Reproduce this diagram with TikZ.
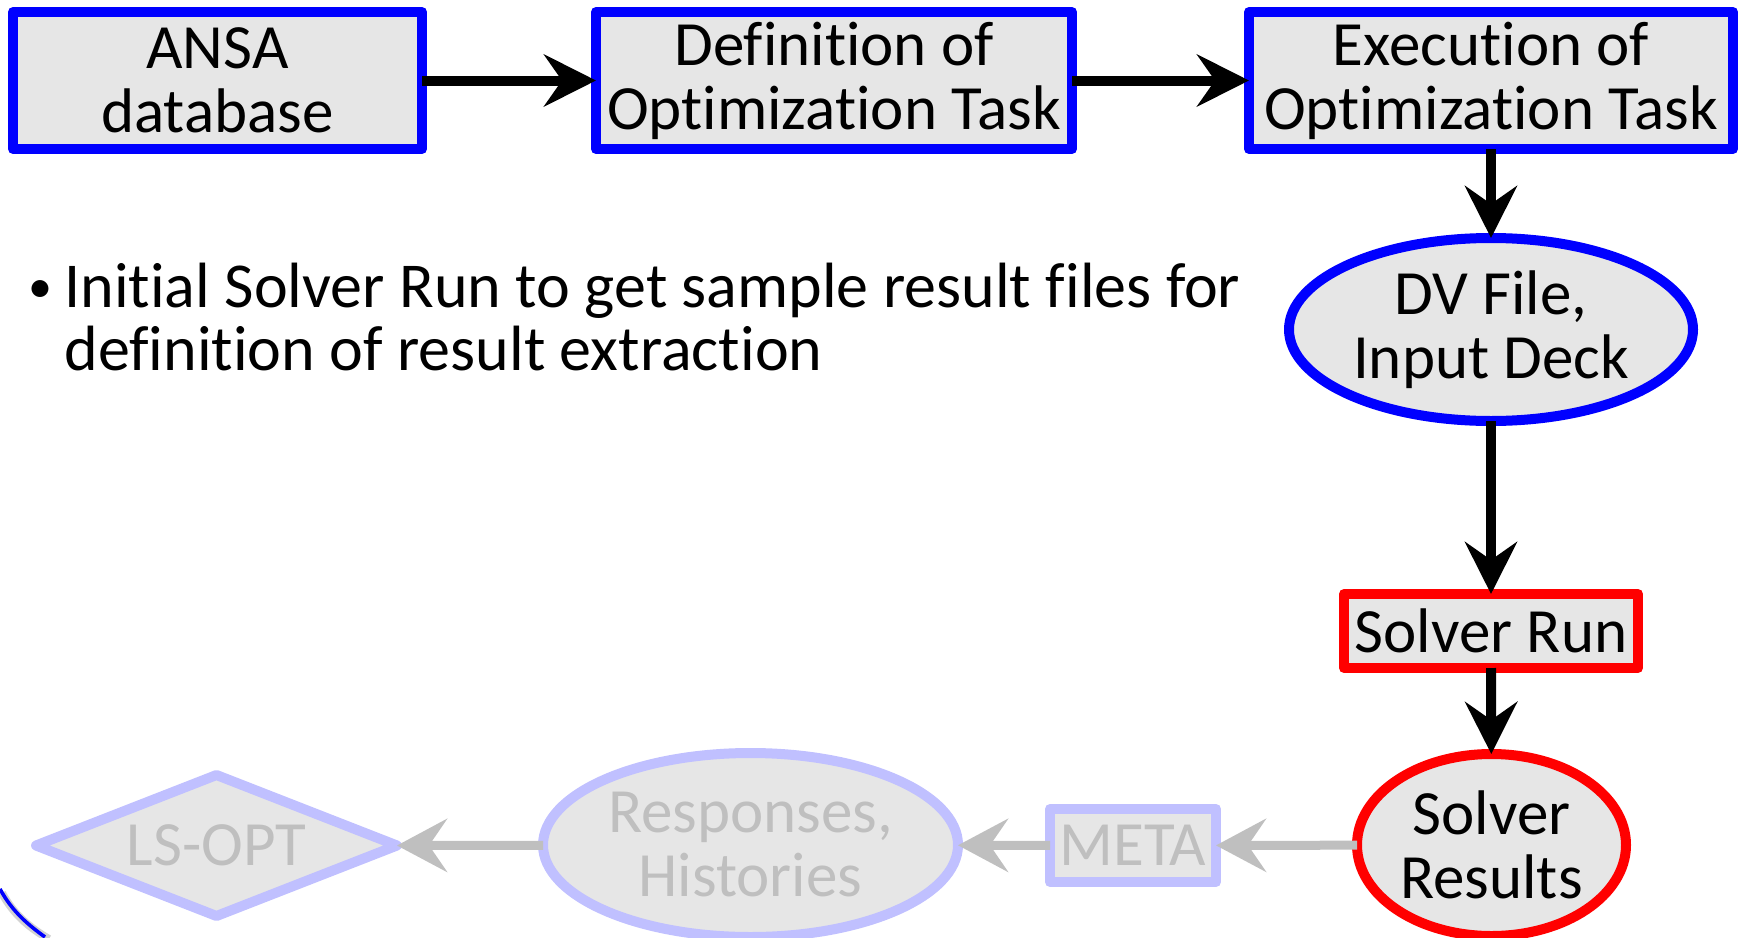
\documentclass[tikz,border=0pt]{standalone}
\usepackage{fontspec}
\setmainfont{Carlito}[Ligatures={NoCommon,NoContextual,NoRequired}, Contextuals=NoAlternate, RawFeature=-dlig]
\usetikzlibrary{arrows.meta,shapes.geometric}
\definecolor{boxgray}{HTML}{E6E6E6}
\definecolor{pureblue}{HTML}{0000FF}
\definecolor{purered}{HTML}{FF0000}
\definecolor{lav}{HTML}{C0C0FF}
\definecolor{fadegray}{HTML}{BFBFBF}
\tikzset{
  boxfont/.style={font=\fontsize{31.5pt}{32pt}\selectfont},
  basebox/.style={draw, fill=boxgray, line width=5pt, line join=round, inner sep=0pt, outer sep=0pt, align=center, boxfont},
  bluebox/.style={basebox, rectangle, draw=pureblue},
  blueell/.style={basebox, ellipse, draw=pureblue},
  redbox/.style={basebox, rectangle, draw=purered},
  redell/.style={basebox, ellipse, draw=purered},
  fadebox/.style={basebox, rectangle, draw=lav, text=fadegray},
  fadeell/.style={basebox, ellipse, draw=lav, text=fadegray},
  fadedia/.style={basebox, diamond, aspect=2.56, draw=lav, text=fadegray},
  blackarrow/.style={draw=black, line width=5pt, -{Stealth[length=26pt, width=26pt, inset=9pt]}},
  grayarrow/.style={draw=fadegray, line width=4.5pt, -{Stealth[length=25pt, width=26.5pt, inset=9pt, fill=fadegray]}},
  bulletfont/.style={font=\fontsize{32pt}{31.5pt}\selectfont},
}
\begin{document}
\begin{tikzpicture}[x=0.5pt, y=-0.5pt]
\useasboundingbox (0,0) rectangle (1740,937);
\node[bluebox, minimum width=204.5pt, minimum height=68.5pt] (ansa) at (217.5,80.5) {ANSA\\database};
\node[bluebox, minimum width=238pt, minimum height=68.5pt] (def) at (834,80.5) {Definition of\\Optimization Task};
\node[bluebox, minimum width=242pt, minimum height=68.5pt] (exe) at (1491,80.5) {Execution of\\Optimization Task};
\node[blueell, minimum width=202pt, minimum height=91.5pt] (dv) at (1491,329.5) {DV File,\\Input Deck};
\node[redbox, minimum width=147pt, minimum height=37pt] (run) at (1491,631) {Solver Run};
\node[redell, minimum width=134.5pt, minimum height=91pt] (res) at (1491.5,845) {Solver\\Results};
\node[fadebox, minimum width=83pt, minimum height=36.5pt] (meta) at (1133,845.5) {META};
\node[fadeell, minimum width=207.5pt, minimum height=92pt] (resp) at (750.5,845) {Responses,\\Histories};
\node[fadedia, minimum width=180.5pt, minimum height=70.5pt] (lsopt) at (216.5,845.5) {LS-OPT};

\draw[blackarrow] (ansa) -- (def);
\draw[blackarrow] (def) -- (exe);
\draw[blackarrow] (exe) -- (dv);
\draw[blackarrow] (dv) -- (run);
\draw[blackarrow] (run) -- (res);
\draw[grayarrow] (res) -- (meta);
\draw[grayarrow] (meta) -- (resp);
\draw[grayarrow] (resp) -- (lsopt.east);

\node[anchor=base west, inner sep=0pt, font=\fontsize{24pt}{24pt}\selectfont] (bul) at (28,302) {•};
\node[anchor=base west, inner sep=0pt, align=left, bulletfont] (txt) at (64,370) {Initial Solver Run to get sample result files for\\definition of result extraction};

\draw[gray!35, line width=4pt] (2,893) .. controls (14,915) and (30,928) .. (49,939);
\draw[pureblue, line width=1.8pt] (0,889) .. controls (12,911) and (27,924) .. (45,937);
\end{tikzpicture}
\end{document}
